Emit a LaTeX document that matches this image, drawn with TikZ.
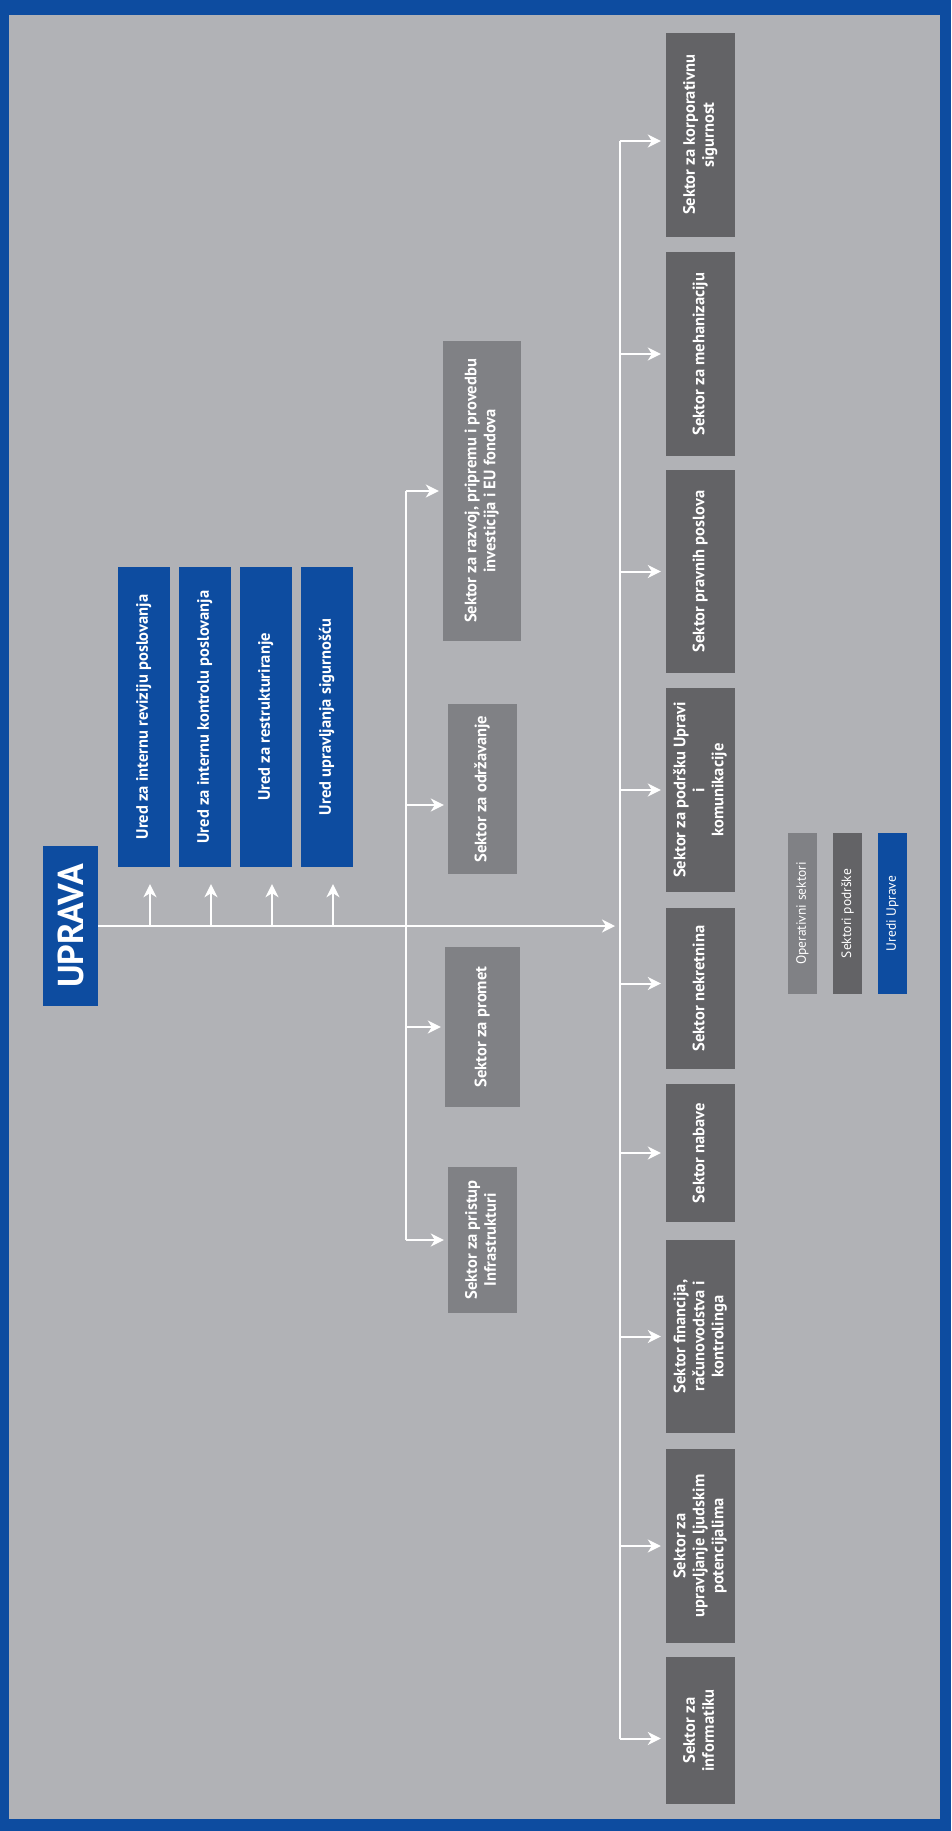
\documentclass[tikz,border=0pt]{standalone}
\usepackage{graphicx}
\usepackage{fontspec}
\setmainfont{PT Sans}
\usepackage{tikz}
\usetikzlibrary{arrows.meta,calc}
\definecolor{frameblue}{HTML}{0D4CA0}
\definecolor{backgrey}{HTML}{B1B2B6}
\definecolor{opgrey}{HTML}{808185}
\definecolor{supgrey}{HTML}{636366}
\newcommand{\vtext}[1]{\rotatebox{90}{\begin{tabular}{@{}c@{}}#1\end{tabular}}}
\tikzstyle{box} = [rectangle, inner sep=0pt, text=white, font=\bfseries\fontsize{16.5}{19}\selectfont]
\tikzstyle{ured} = [box, fill=frameblue, minimum width=52pt, minimum height=300pt]
\tikzstyle{operativni} = [box, fill=opgrey, minimum width=69pt]
\tikzstyle{podrska} = [box, fill=supgrey, minimum width=69pt]
\tikzstyle{legend} = [rectangle, inner sep=0pt, text=white, font=\fontsize{13.5}{15}\selectfont, minimum width=29pt, minimum height=161pt]
\tikzstyle{line} = [draw=white, line width=2pt]
\tikzstyle{connector} = [line, -{Stealth[length=13pt,width=13pt,inset=4pt]}]

\begin{document}
\begin{tikzpicture}[x=1pt, y=-1pt, node distance=61pt]
        \useasboundingbox (0,0) rectangle (951,1831);
        \fill [frameblue] (0,0) rectangle (951,1831);
        \fill [backgrey] (9,15) rectangle (940,1819);
        \node (uprava) [box, fill=frameblue, minimum width=55pt, minimum height=160pt, font=\bfseries\fontsize{36}{40}\selectfont] at (70.5,926) {\rotatebox{90}{UPRAVA}};
        \node (ured-1) [ured] at (144,717) {\vtext{Ured za internu reviziju poslovanja}};
        \node (ured-2) [ured, right of = ured-1] {\vtext{Ured za internu kontrolu poslovanja}};
        \node (ured-3) [ured, right of = ured-2] {\vtext{Ured za restrukturiranje}};
        \node (ured-4) [ured, right of = ured-3] {\vtext{Ured upravljanja sigurnošću}};
        \node (razvoj) [operativni, minimum width=78pt, minimum height=300pt] at (482,491) {\vtext{Sektor za razvoj, pripremu i provedbu\\investicija i EU fondova}};
        \node (odrzavanje) [operativni, minimum height=170pt] at (482.5,789) {\vtext{Sektor za održavanje}};
        \node (promet) [operativni, minimum width=75pt, minimum height=160pt] at (482.5,1027) {\vtext{Sektor za promet}};
        \node (pristup) [operativni, minimum height=146pt] at (482.5,1240) {\vtext{Sektor za pristup\\Infrastrukturi}};
        \node (korporativna) [podrska, minimum height=204pt] at (700.5,135) {\vtext{Sektor za korporativnu\\sigurnost}};
        \node (mehanizacija) [podrska, minimum height=204pt] at (700.5,354) {\vtext{Sektor za mehanizaciju}};
        \node (pravni) [podrska, minimum height=203pt] at (700.5,571.5) {\vtext{Sektor pravnih poslova}};
        \node (podrska-upravi) [podrska, minimum height=204pt] at (700.5,790) {\vtext{Sektor za podršku Upravi\\i\\komunikacije}};
        \node (nekretnine) [podrska, minimum height=161pt] at (700.5,988.5) {\vtext{Sektor nekretnina}};
        \node (nabava) [podrska, minimum height=138pt] at (700.5,1153) {\vtext{Sektor nabave}};
        \node (financije) [podrska, minimum height=193pt] at (700.5,1336.5) {\vtext{Sektor financija,\\računovodstva i\\kontrolinga}};
        \node (ljudski) [podrska, minimum height=194pt] at (700.5,1546) {\vtext{Sektor za\\upravljanje ljudskim\\potencijalima}};
        \node (informatika) [podrska, minimum height=147pt] at (700.5,1730.5) {\vtext{Sektor za\\informatiku}};
        \node (leg-op) [legend, fill=opgrey] at (802.5,913.5) {\rotatebox{90}{Operativni sektori}};
        \node (leg-sup) [legend, fill=supgrey, right of = leg-op, node distance=45pt] {\rotatebox{90}{Sektori podrške}};
        \node (leg-ured) [legend, fill=frameblue, right of = leg-sup, node distance=45pt] {\rotatebox{90}{Uredi Uprave}};
        \coordinate (op-trunk) at (406,926);
        \coordinate (sup-trunk) at (620,926);
        \draw [connector, shorten >=5pt] (uprava.east) -- (sup-trunk);
        \foreach \n in {ured-1,ured-2,ured-3,ured-4}
            \draw [connector, shorten >=17pt] ($(\n |- uprava)+(6,0)$) -- ($(\n.south)+(6,0)$);
        \foreach \n/\d in {razvoj/0, odrzavanje/-16, promet/0, pristup/0} {
            \coordinate (\n-tip) at ([yshift=\d pt]\n.west);
            \draw [connector, shorten >=4pt] (op-trunk |- \n-tip) -- (\n-tip);
        }
        \foreach \n/\d in {korporativna/-6, mehanizacija/0, pravni/0, podrska-upravi/0, nekretnine/5, nabava/0, financije/0, ljudski/0, informatika/-8} {
            \coordinate (\n-tip) at ([yshift=\d pt]\n.west);
            \draw [connector, shorten >=5pt] (sup-trunk |- \n-tip) -- (\n-tip);
        }
        \draw [line] (op-trunk |- razvoj-tip) -- (op-trunk |- pristup-tip);
        \draw [line] (sup-trunk |- korporativna-tip) -- (sup-trunk |- informatika-tip);
    \end{tikzpicture}
\end{document}
